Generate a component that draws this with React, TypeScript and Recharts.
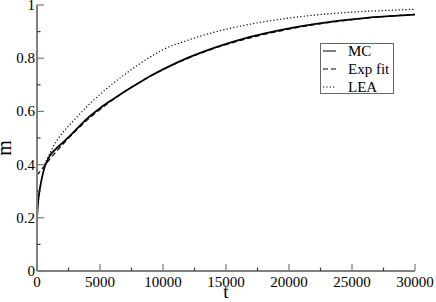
import React from 'react';
import { LineChart, Line, XAxis, YAxis, Legend } from 'recharts';

const tMC = [0, 100, 250, 400, 600, 800, 1000, 1500, 2000, 2500, 3000, 4000, 5000, 6000, 7000, 8000, 9000, 10000, 12000, 14000, 16000, 18000, 20000, 22000, 24000, 26000, 28000, 30000];
const mcValues = [0.20, 0.265, 0.315, 0.352, 0.39, 0.413, 0.432, 0.459, 0.481, 0.503, 0.527, 0.574, 0.612, 0.645, 0.676, 0.705, 0.733, 0.758, 0.802, 0.838, 0.868, 0.892, 0.912, 0.928, 0.941, 0.951, 0.958, 0.964];

const tFit = [0, 500, 1000, 1500, 2000, 3000, 4000, 5000, 6000, 7000, 8000, 9000, 10000, 12000, 14000, 16000, 18000, 20000, 22000, 24000, 26000, 28000, 30000];
const fitValues = [0.36, 0.39, 0.42, 0.447, 0.474, 0.523, 0.568, 0.607, 0.643, 0.676, 0.705, 0.733, 0.757, 0.8, 0.836, 0.865, 0.889, 0.909, 0.926, 0.939, 0.95, 0.958, 0.965];

const tLEA = [600, 1000, 1500, 2000, 2500, 3000, 4000, 5000, 6000, 7000, 8000, 9000, 10000, 12000, 14000, 16000, 18000, 20000, 22000, 24000, 26000, 28000, 30000];
const leaValues = [0.40, 0.44, 0.485, 0.518, 0.545, 0.57, 0.62, 0.664, 0.704, 0.74, 0.774, 0.805, 0.832, 0.868, 0.897, 0.919, 0.937, 0.951, 0.962, 0.97, 0.976, 0.98, 0.984];

const xTicks = [0, 2500, 5000, 7500, 10000, 12500, 15000, 17500, 20000, 22500, 25000, 27500, 30000];
const yTicks = [0, 0.1, 0.2, 0.3, 0.4, 0.5, 0.6, 0.7, 0.8, 0.9, 1];

const seriesNames = ['MC', 'Exp fit', 'LEA'];

const mcData = tMC.map((t, i) => ({ t, m: mcValues[i] }));
const fitData = tFit.map((t, i) => ({ t, m: fitValues[i] }));
const leaData = tLEA.map((t, i) => ({ t, m: leaValues[i] }));

const FONT = "'Liberation Serif', 'Times New Roman', Times, serif";
const TXT: React.CSSProperties = { fontFamily: FONT };
const MAJOR_C = '#7a7a7a';
const MINOR_C = '#3a3a3a';

const isMajorX = (v: number) => v % 5000 === 0;
const isMajorY = (v: number) => Math.round(v * 10) % 2 === 0;
const fmtY = (v: number) => (v === 0 ? '0' : v === 1 ? '1' : v.toFixed(1));

const BottomTick = (p: any) => {
  const { x, y, payload } = p;
  const major = isMajorX(payload.value);
  return (
    <g>
      <line x1={x} x2={x} y1={y} y2={y - (major ? 7 : 3.5)} stroke={major ? MAJOR_C : MINOR_C} strokeWidth={1.2} />
      {major && (
        <text x={x} y={y + 16} textAnchor="middle" style={TXT} fontSize={15} fill="#000">
          {payload.value}
        </text>
      )}
    </g>
  );
};

const TopTick = (p: any) => {
  const { x, y, payload } = p;
  const major = isMajorX(payload.value);
  return <line x1={x} x2={x} y1={y} y2={y + (major ? 7 : 3.5)} stroke={major ? MAJOR_C : MINOR_C} strokeWidth={1.2} />;
};

const LeftTick = (p: any) => {
  const { x, y, payload } = p;
  const major = isMajorY(payload.value);
  return (
    <g>
      <line x1={x} x2={x + (major ? 7 : 3.5)} y1={y} y2={y} stroke={major ? MAJOR_C : MINOR_C} strokeWidth={1.2} />
      {major && (
        <text x={x - 2} y={y + 5} textAnchor="end" style={TXT} fontSize={15} fill="#000">
          {fmtY(payload.value)}
        </text>
      )}
    </g>
  );
};

const RightTick = (p: any) => {
  const { x, y, payload } = p;
  const major = isMajorY(payload.value);
  return <line x1={x} x2={x - (major ? 7 : 3.5)} y1={y} y2={y} stroke={major ? MAJOR_C : MINOR_C} strokeWidth={1.2} />;
};

const styles = [
  { dash: undefined as string | undefined, width: 1.8 },
  { dash: '5 3', width: 1.2 },
  { dash: '1.2 2.2', width: 1.2 },
];

const LegendBox = () => (
  <div style={{ width: 74, height: 51, border: '1px solid #666', boxSizing: 'border-box', background: '#fff', position: 'relative' }}>
    <svg width={72} height={49} style={{ position: 'absolute', left: 0, top: 0, overflow: 'visible' }}>
      {seriesNames.map((name, i) => {
        const cy = 7 + i * 18;
        return (
          <g key={name}>
            <line x1={2} x2={15} y1={cy} y2={cy} stroke="#000" strokeWidth={1} strokeDasharray={styles[i].dash} />
            <text x={27} y={cy + 5} style={TXT} fontSize={15} fill="#000">{name}</text>
          </g>
        );
      })}
    </svg>
  </div>
);

export default function App() {
  return (
    <div style={{ position: 'absolute', left: 0, top: 0, background: '#fff' }}>
      <LineChart width={436} height={302} margin={{ top: 5, right: 21, left: 0, bottom: 0 }}>
        <XAxis
          xAxisId="b"
          type="number"
          dataKey="t"
          domain={[0, 30000]}
          ticks={xTicks}
          interval={0}
          height={31}
          tickSize={0}
          tickMargin={0}
          tickLine={false}
          tick={<BottomTick />}
          axisLine={{ stroke: '#808080', strokeWidth: 2 }}
          allowDataOverflow
          label={(props: any) => {
            const vb = props.viewBox;
            return (
              <text x={vb.x + vb.width / 2} y={vb.y + 27} textAnchor="middle" style={TXT} fontSize={19} fill="#000">t</text>
            );
          }}
        />
        <XAxis
          xAxisId="top"
          orientation="top"
          type="number"
          dataKey="t"
          domain={[0, 30000]}
          ticks={xTicks}
          interval={0}
          height={0}
          tickSize={0}
          tickMargin={0}
          tickLine={false}
          tick={<TopTick />}
          axisLine={{ stroke: '#808080', strokeWidth: 2 }}
        />
        <YAxis
          yAxisId="l"
          type="number"
          domain={[0, 1]}
          ticks={yTicks}
          interval={0}
          width={37}
          tickSize={0}
          tickMargin={0}
          tickLine={false}
          tick={<LeftTick />}
          axisLine={{ stroke: '#808080', strokeWidth: 2 }}
          label={(props: any) => {
            const vb = props.viewBox;
            const cx = 11;
            const cy = vb.y + vb.height / 2 + 10;
            return (
              <text x={cx} y={cy} transform={`rotate(-90 ${cx} ${cy})`} textAnchor="middle" style={TXT} fontSize={20} fill="#000">m</text>
            );
          }}
        />
        <YAxis
          yAxisId="r"
          orientation="right"
          type="number"
          domain={[0, 1]}
          ticks={yTicks}
          interval={0}
          width={0}
          tickSize={0}
          tickMargin={0}
          tickLine={false}
          tick={<RightTick />}
          axisLine={{ stroke: '#808080', strokeWidth: 2 }}
        />
        <Legend
          layout="horizontal"
          verticalAlign="middle"
          align="center"
          wrapperStyle={{ left: 320, top: 43, width: 74, height: 51 }}
          content={() => <LegendBox />}
        />
        <Line xAxisId="b" yAxisId="l" data={leaData} dataKey="m" type="monotone" stroke="#000" strokeWidth={styles[2].width} strokeDasharray={styles[2].dash} dot={false} isAnimationActive={false} name="LEA" />
        <Line xAxisId="b" yAxisId="l" data={fitData} dataKey="m" type="monotone" stroke="#000" strokeWidth={styles[1].width} strokeDasharray={styles[1].dash} dot={false} isAnimationActive={false} name="Exp fit" />
        <Line xAxisId="b" yAxisId="l" data={mcData} dataKey="m" type="monotone" stroke="#000" strokeWidth={styles[0].width} dot={false} isAnimationActive={false} name="MC" />
      </LineChart>
    </div>
  );
}
